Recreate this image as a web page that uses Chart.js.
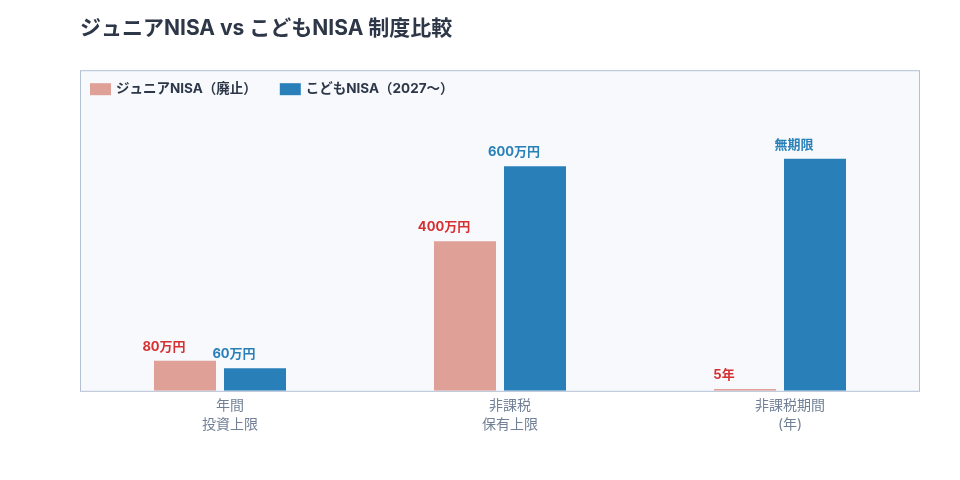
<!DOCTYPE html>
<html lang="ja">
<head>
<meta charset="utf-8">
<title>ジュニアNISA vs こどもNISA 制度比較</title>
<script src="https://cdn.jsdelivr.net/npm/chart.js@4/dist/chart.umd.min.js"></script>
<style>
  html, body { margin: 0; padding: 0; background: #ffffff; }
  #wrap { width: 960px; height: 480px; position: relative; }
</style>
</head>
<body>
<div id="wrap"><canvas id="chart"></canvas></div>
<script>
// ── Data ────────────────────────────────────────────────
const categories = [['年間', '投資上限'], ['非課税', '保有上限'], ['非課税期間', '(年)']];
const juniorValues = [80, 400, 5];
const kodomoValues = [60, 600, 620];
const juniorText = ['80万円', '400万円', '5年'];
const kodomoText = ['60万円', '600万円', '無期限'];
const seriesNames = ['ジュニアNISA（廃止）', 'こどもNISA（2027〜）'];

const COLORS = {
  junior: '#dea097',
  kodomo: '#2980b9',
  juniorText: '#d63031',
  kodomoText: '#2980b9',
  title: '#2d3748',
  tick: '#718096',
  frame: '#b4c0d4',
  frameBg: '#f7f9fd',
};

const FONT = "'Inter', 'Noto Sans CJK JP', sans-serif";

// ── Frame + legend inside the frame ─────────────────────
const framePlugin = {
  id: 'frame',
  beforeDraw(chart) {
    const { ctx, chartArea: a } = chart;
    const top = a.top - 40;
    ctx.save();
    ctx.fillStyle = COLORS.frameBg;
    ctx.fillRect(a.left, top, a.right - a.left, a.bottom - top);
    ctx.strokeStyle = COLORS.frame;
    ctx.lineWidth = 1;
    ctx.strokeRect(a.left + 0.5, top + 0.5, a.right - a.left - 1, a.bottom - top);
    ctx.restore();
  },
  afterDraw(chart) {
    const { ctx, chartArea: a } = chart;
    const y = a.top - 21;
    let x = a.left + 10;
    ctx.save();
    ctx.font = `bold 13.5px ${FONT}`;
    ctx.textBaseline = 'middle';
    ctx.textAlign = 'left';
    chart.data.datasets.forEach((ds) => {
      ctx.fillStyle = ds.backgroundColor;
      ctx.fillRect(x, y - 6, 21, 12);
      ctx.fillStyle = COLORS.title;
      ctx.fillText(ds.label, x + 26, y);
      x += 26 + ctx.measureText(ds.label).width + 23;
    });
    ctx.restore();
  },
};

// ── Value labels above bars ─────────────────────────────
const valueLabelPlugin = {
  id: 'valueLabels',
  afterDatasetsDraw(chart) {
    const { ctx } = chart;
    const texts = [juniorText, kodomoText];
    const colors = [COLORS.juniorText, COLORS.kodomoText];
    ctx.save();
    ctx.font = `bold 13px ${FONT}`;
    ctx.textAlign = 'center';
    ctx.textBaseline = 'middle';
    chart.data.datasets.forEach((ds, di) => {
      chart.getDatasetMeta(di).data.forEach((bar, i) => {
        ctx.fillStyle = colors[di];
        ctx.fillText(texts[di][i], bar.x - 21, bar.y - 14);
      });
    });
    ctx.restore();
  },
};

new Chart(document.getElementById('chart'), {
  type: 'bar',
  data: {
    labels: categories,
    datasets: [
      {
        label: seriesNames[0],
        data: juniorValues,
        backgroundColor: COLORS.junior,
        categoryPercentage: 0.5,
        barPercentage: 0.886,
      },
      {
        label: seriesNames[1],
        data: kodomoValues,
        backgroundColor: COLORS.kodomo,
        categoryPercentage: 0.5,
        barPercentage: 0.886,
      },
    ],
  },
  options: {
    responsive: true,
    maintainAspectRatio: false,
    animation: false,
    layout: { padding: { left: 80, right: 40, top: 0, bottom: 40 } },
    plugins: {
      legend: { display: false },
      tooltip: { enabled: false },
      title: {
        display: true,
        text: 'ジュニアNISA vs こどもNISA 制度比較',
        align: 'start',
        color: COLORS.title,
        font: { family: FONT, size: 21, weight: 'bold' },
        padding: { top: 16, bottom: 69 },
      },
    },
    scales: {
      x: {
        grid: { display: false, tickLength: 0 },
        border: { display: false },
        ticks: {
          color: COLORS.tick,
          font: { family: FONT, size: 14, lineHeight: 1.4 },
          padding: 5,
          labelOffset: 10,
        },
      },
      y: {
        display: false,
        min: 0,
        max: 750,
      },
    },
  },
  plugins: [framePlugin, valueLabelPlugin],
});
</script>
</body>
</html>
